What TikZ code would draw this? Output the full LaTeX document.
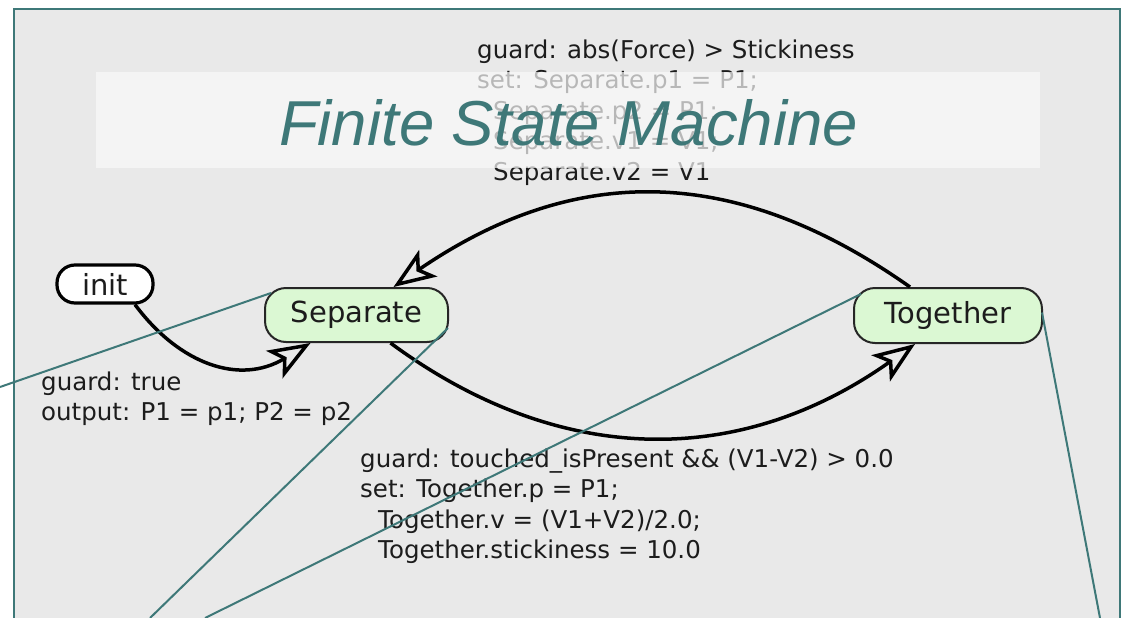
\documentclass[tikz,border=0pt]{standalone}
\usepackage{fontspec}
\setmainfont{DejaVu Sans}
\newfontfamily\titlefont{Liberation Sans}
\usetikzlibrary{arrows.meta,calc}
\definecolor{fsmteal}{HTML}{3E7878}
\definecolor{panelgray}{HTML}{E9E9E9}
\definecolor{stategreen}{HTML}{DBF8D3}
\definecolor{bandwhite}{HTML}{FAFAFA}
\definecolor{labeltext}{HTML}{1C1C1C}
\begin{document}
\begin{tikzpicture}[x=1pt,y=-1pt,
  lbl/.style={anchor=north west, inner sep=0pt, align=left, text=labeltext,
    font=\fontsize{24.5}{30.5}\selectfont},
  state/.style={draw=black!85, line width=2pt, fill=stategreen, rounded corners=21pt,
    minimum width=183pt, minimum height=54pt, inner sep=0pt, text=labeltext,
    font=\fontsize{29}{34}\selectfont},
  initstate/.style={draw=black, line width=3.2pt, fill=white, rounded corners=18pt,
    minimum width=96pt, minimum height=38pt, inner sep=0pt, text=labeltext,
    font=\fontsize{29}{34}\selectfont},
  trans/.style={line width=3.5pt, draw=black,
    -{Stealth[open,length=42pt,width=32pt,inset=10pt]}},
  callout/.style={draw=fsmteal, line width=2pt}]
\useasboundingbox (0,0) rectangle (1124,618);
\clip (0,0) rectangle (1124,618);
% panel
\fill[panelgray] (14,9) rectangle (1120,640);
\draw[fsmteal, line width=2.5pt] (14,640) -- (14,9) -- (1120,9) -- (1120,640);
% top transition label (partly behind the title band)
\node[lbl] (toplabel) at (477,38) {\rule{0pt}{20pt}guard: abs(Force) > Stickiness\\
set: Separate.p1 = P1;\\
\hspace*{16pt}Separate.p2 = P1;\\
\hspace*{16pt}Separate.v1 = V1;\\
\hspace*{16pt}Separate.v2 = V1};
% title band
\fill[bandwhite, opacity=0.7] (96,72) rectangle (1040,168);
\node[anchor=base, inner sep=0pt, text=fsmteal, font=\titlefont\itshape\fontsize{63.5}{70}\selectfont]
  (title) at (568.5,145) {Finite State Machine};
% states
\node[initstate] (init) at (105,284) {init};
\node[state] (Separate) at (356.5,315) {Separate};
\node[state, minimum width=188pt, minimum height=55pt] (Together) at (948,315.5) {Together};
% transitions
\draw[trans] ($(init.south)+(30,0)$) .. controls (180,365) and (240,385) .. ($(Separate.south)+(-46,0)$);
\draw[trans] ($(Separate.south)+(34,0)$) .. controls (560,468) and (740,468) .. ($(Together.south)+(-33,0)$);
\draw[trans] ($(Together.north)+(-38,0)$) .. controls (730,160) and (570,166) .. ($(Separate.north)+(37,0)$);
% transition labels
\node[lbl] (initlabel) at (41,370) {\rule{0pt}{20pt}guard: true\\
output: P1 = p1; P2 = p2};
\node[lbl] (sepLabel) at (360,447) {\rule{0pt}{20pt}guard: touched\_isPresent \&\& (V1-V2) > 0.0\\
set: Together.p = P1;\\
\hspace*{18pt}Together.v = (V1+V2)/2.0;\\
\hspace*{18pt}Together.stickiness = 10.0};
% callout lines
\coordinate (c1) at (0,387);
\coordinate (c2) at (150,618);
\coordinate (c3) at (205,618);
\coordinate (c4) at (1100,618);
\draw[callout] (c1) -- ($(Separate.north west)+(7,6)$);
\draw[callout] (c2) -- ($(Separate.east)+(-1,13)$);
\draw[callout] (c3) -- ($(Together.north west)+(8,7)$);
\draw[callout] ($(Together.east)+(-1,-3)$) -- (c4);
\end{tikzpicture}
\end{document}
